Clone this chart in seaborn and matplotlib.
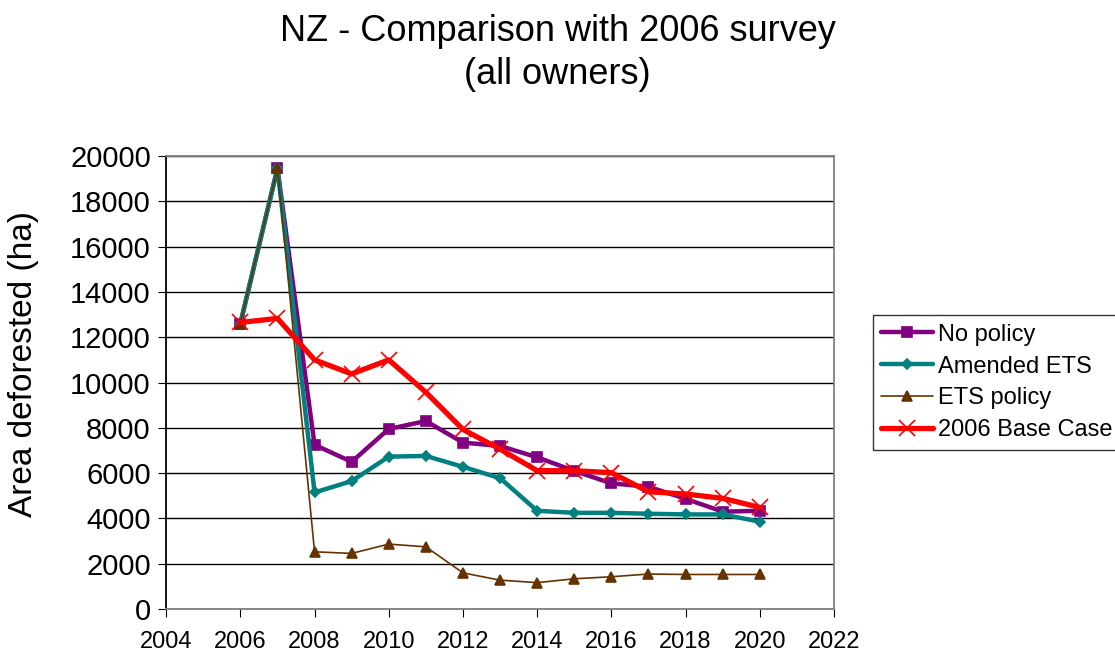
import pandas as pd
import seaborn as sns
from matplotlib import pyplot as plt

years = list(range(2006, 2021))

no_policy = [12600, 19450, 7250, 6500, 7950, 8300, 7350, 7200, 6700, 6100, 5550, 5400, 4870, 4300, 4340]
amended_ets = [12600, 19450, 5150, 5650, 6730, 6760, 6280, 5780, 4340, 4250, 4250, 4210, 4180, 4180, 3860]
ets_policy = [12600, 19450, 2530, 2460, 2870, 2750, 1600, 1280, 1170, 1340, 1430, 1550, 1530, 1530, 1530]
base_case_2006 = [12650, 12830, 11000, 10380, 11000, 9570, 7930, 7060, 6110, 6110, 6020, 5180, 5080, 4890, 4490]

series_names = ['No policy', 'Amended ETS', 'ETS policy', '2006 Base Case']
series_values = [no_policy, amended_ets, ets_policy, base_case_2006]

df = pd.DataFrame({
    'year': years * len(series_names),
    'area': [v for vals in series_values for v in vals],
    'series': [name for name in series_names for _ in years],
})

styles = {
    'No policy': dict(color='#800080', marker='s', lw=3.2, ms=7),
    'Amended ETS': dict(color='#008080', marker='D', lw=3.2, ms=5.5),
    'ETS policy': dict(color='#663300', marker='^', lw=1.2, ms=7),
    '2006 Base Case': dict(color='#FF0000', marker='x', lw=3.8, ms=12),
}

sns.set_style('white')
plt.rcParams['font.family'] = ['Liberation Sans', 'DejaVu Sans']
plt.rcParams['text.color'] = 'black'
plt.rcParams['axes.labelcolor'] = 'black'
plt.rcParams['xtick.color'] = 'black'
plt.rcParams['ytick.color'] = 'black'

fig = plt.figure(figsize=(11.15, 6.55), dpi=100)
ax = fig.add_axes([0.149, 0.070, 0.599, 0.692])

for name in series_names:
    st = styles[name]
    sns.lineplot(
        data=df[df.series == name], x='year', y='area', ax=ax,
        color=st['color'], marker=st['marker'], linewidth=st['lw'],
        markersize=st['ms'], markeredgecolor=st['color'],
        markeredgewidth=1.2, label=name,
    )

ax.set_xlim(2004, 2022)
ax.set_ylim(0, 20000)
ax.set_xticks(range(2004, 2023, 2))
ax.set_yticks(range(0, 20001, 2000))
ax.tick_params(axis='both', length=6, direction='out', color='black',
               left=True, bottom=True)
ax.tick_params(axis='x', labelsize=17, pad=10)
ax.tick_params(axis='y', labelsize=21, pad=5)
ax.yaxis.grid(True, color='black', linewidth=1)
ax.xaxis.grid(False)
ax.set_axisbelow(True)
ax.spines['left'].set_color('black')
for side in ['bottom', 'right', 'top']:
    ax.spines[side].set_color('#808080')
for sp in ax.spines.values():
    sp.set_linewidth(1.3)

ax.set_xlabel('')
ax.set_ylabel('Area deforested (ha)', fontsize=24)
ax.yaxis.set_label_coords(-0.19, 0.54)

fig.text(0.5, 0.952, 'NZ - Comparison with 2006 survey', fontsize=26,
         ha='center', va='center')
fig.text(0.5, 0.886, '(all owners)', fontsize=26, ha='center', va='center')

leg = ax.legend(loc='center left', bbox_to_anchor=(1.058, 0.5), fontsize=17,
                frameon=True, fancybox=False, edgecolor='black',
                handlelength=2.2, handletextpad=0.2, borderpad=0.35,
                labelspacing=0.42, borderaxespad=0)
leg.get_frame().set_linewidth(1)

fig.savefig('out.png', dpi=100)
